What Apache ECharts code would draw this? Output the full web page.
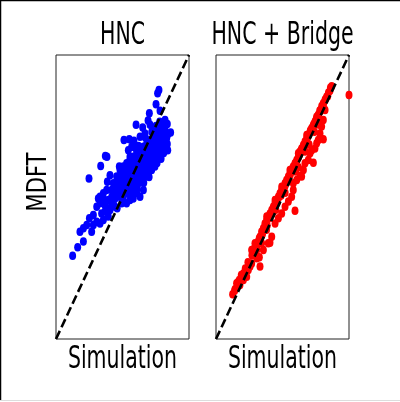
<!DOCTYPE html>
<html><head><meta charset="utf-8">
<script src="https://cdn.jsdelivr.net/npm/echarts@6/dist/echarts.min.js"></script>
<style>html,body{margin:0;padding:0;background:#fff;}#c{width:400px;height:402px;}</style>
</head><body><div id="c"></div>
<script>
const panelTitles = ['HNC', 'HNC + Bridge'];
const xLabel = 'Simulation';
const yLabel = 'MDFT';
const axisRange = [0, 100];
const diagonal = [[0, 0], [100, 100]];

const hncPoints = [
 [77.4,87.7],[76.4,86.5],[75.2,82.7],[70.2,79.5],[78.2,80.4],[60.2,75.4],[65.2,74.5],[69.2,76.9],
 [82.0,77.1],[83.7,75.7],[86.2,72.7],[83.7,68.7],[70.7,75.4],[73.2,73.6],[51.1,70.1],[55.1,70.3],
 [58.6,69.8],[56.9,67.7],[54.4,66.5],[55.6,64.2],[60.7,66.5],[63.2,71.2],[66.9,72.4],[37.1,64.4],
 [38.3,64.2],[33.6,60.9],[24.8,56.5],[47.6,60.7],[40.6,57.7],[38.6,55.4],[12.5,29.3],[16.3,32.3],
 [20.6,34.3],[18.0,37.8],[20.6,39.0],[23.1,40.1],[26.8,37.8],[25.1,42.5],[28.1,43.7],[30.6,46.6],
 [31.8,49.5],[33.1,50.1],[34.3,44.2],[33.1,40.7],[35.6,41.9],[36.8,47.2],[39.3,48.9],[41.9,52.5],
 [45.6,53.6],[44.4,49.5],[40.6,45.4],[48.1,51.3],[50.6,50.1],[53.1,47.8],[55.6,48.9],[49.4,47.8],
 [44.4,46.6],[39.3,43.1],[30.6,41.3],[28.1,40.1],
 [46.9,55.4],[49.4,57.2],[51.9,58.3],[54.4,59.5],[56.9,60.7],[59.4,61.9],[61.9,63.0],[64.4,64.2],
 [66.9,65.4],[69.4,66.5],[71.9,67.7],[74.4,68.9],[76.9,70.1],[79.4,71.2],[80.7,72.4],[82.0,73.6],
 [51.9,54.8],[55.6,56.0],[58.1,57.2],[60.7,58.3],[63.2,59.5],[65.7,60.7],[68.2,61.9],[70.7,63.0],
 [73.2,64.2],[75.7,65.4],[78.2,66.5],[80.7,67.7],[82.0,68.9],[83.2,70.7],[80.7,73.6],[78.2,74.8],
 [48.1,59.5],[50.6,60.7],[53.1,61.9],[55.6,63.0],[58.1,64.2],[60.7,65.4],[63.2,66.5],[65.7,67.7],
 [68.2,68.9],[70.7,70.1],[73.2,71.2],[75.7,72.4],[76.9,73.6],[75.2,75.0],
 [55.6,52.5],[59.4,53.6],[61.9,54.8],[64.4,56.0],[66.9,57.2],[69.4,58.3],[71.9,59.5],[74.4,60.7],
 [75.7,63.0],[78.2,64.2],[60.7,51.3],[65.7,52.5],[63.2,50.1],[58.1,49.5],[53.1,51.3],[45.6,57.2],
 [43.1,54.8],[41.9,50.1],[38.1,52.5],[35.6,51.3],[33.1,47.8],[45.6,50.1],[43.1,48.4],
 [54.4,57.2],[56.9,58.3],[59.4,59.5],[61.9,60.7],[64.4,61.9],[66.9,63.0],[69.4,64.2],[71.9,65.4],
 [74.4,66.5],[76.9,67.7],[79.4,68.9],[80.7,69.8],[50.6,53.6],[53.1,54.8],[56.9,54.8],[60.7,56.0],
 [63.2,57.2],[68.2,59.5],[70.7,60.7],[73.2,61.9],[65.7,58.3],[58.1,51.3],[48.1,54.8],[49.4,49.5],
 [50,56],[52,57],[57,59],[60,61],[62,62],[64,63],[66,64.5],[68,66],[70,67],[72,68.5],[74,70],
 [76,71],[78,72.5],[80,71],[82,71],[84,72],[79,70],[77,69],[73,66],[71,64],[69,62.5],[67,61],
 [65,59],[62,57.5],[60,55],[57,53],[54,53],[52,52],[47,52],[44,52.5],[42,47],[39,46],[37,45],
 [36,49],[46,46],[50,49],[56,51],[61,53],[66,55],[70,57],[72,60],[76,62],[79,63.5],[81,65.5],
 [84,66.5],[57,62],[62,68],[59,67.5],[67,71],[72,73],[78,76.5],[80,75.5]
];

const bridgePoints = [
 [12.5,15.8],[15.5,19.6],[17.5,20.8],[19.3,21.4],[20.6,23.1],[23.1,21.9],[24.3,24.3],[26.8,26.6],
 [28.1,30.2],[30.6,31.3],[31.8,34.3],[33.1,36.0],[34.3,37.8],[35.6,39.0],[36.8,40.7],[38.1,41.9],
 [39.3,43.1],[40.6,44.2],[41.9,45.4],[43.1,46.6],[44.4,47.8],[45.6,48.9],[46.9,50.1],[48.1,51.3],
 [49.4,52.5],[50.6,53.6],[51.9,54.8],[53.1,56.0],[54.4,57.2],[55.6,58.3],[56.9,59.5],[58.1,60.7],
 [59.4,61.9],[60.7,63.0],[61.9,64.2],[63.2,66.0],[64.4,67.1],[65.7,68.3],[66.9,69.5],[68.2,70.7],
 [69.4,71.8],[70.7,73.0],[71.9,74.2],[73.2,75.4],[74.4,76.5],[75.7,77.7],[76.9,78.9],[78.2,80.0],
 [79.4,81.2],[80.7,83.0],[82.0,84.2],[83.2,85.3],[84.5,86.7],[85.7,87.4],
 [20.6,20.8],[18.0,19.0],[30.6,28.4],[33.1,25.5],[32.6,28.8],[35.6,31.3],[39.3,33.7],[40.6,33.9],
 [41.9,36.0],[44.4,40.7],[46.9,42.5],[49.4,44.2],[51.9,46.6],[54.4,48.4],[56.9,50.1],[59.4,45.2],
 [58.1,52.5],[58.1,54.8],[60.7,56.0],[63.2,57.4],[64.4,57.2],[65.7,59.5],[66.9,61.9],[69.4,63.0],
 [73.2,62.1],[70.7,65.4],[71.9,66.5],[74.4,67.1],[75.7,68.9],[76.9,70.1],[80.7,70.3],[78.2,72.4],
 [79.4,74.8],[80.7,77.1],[82.0,80.6],
 [26.8,31.3],[29.3,33.7],[38.1,43.1],[44.4,48.9],[49.4,53.6],[55.6,59.5],[61.9,65.4],[68.2,71.8],
 [75.7,78.3],[14.3,17.5],[16.8,20.2],[21.8,23.7],[25.6,25.5],[29.3,30.2],[34.3,33.7],
 [14,17],[16,18.5],[19,22.5],[22,24.8],[24,27],[27,29.5],[29,32],[31,33],[32.5,35.5],[34,36],
 [35,37],[37,39.5],[38.5,40],[40,42.5],[42,44],[43,45],[45,47],[46,48],[47.5,50],[49,50.5],
 [50,52],[52,54],[53,55],[55,57],[56,58],[57.5,60],[59,61],[60,62],[62,64],[63,65],[64,66.5],
 [66,68],[67,69],[69,71],[70,72],[71,73.5],[72.5,74.5],[74,76],[75,77],[77,79],[78,80.5],
 [79.5,82],[81,83],[82.5,84.5],[84,85.5],[86,88.5],[87,89],
 [45,45.5],[52,51.5],[60,59],[67,66],[74,73],[38,38.5],[30,30],[62,60.5],[70,68.5],[77,75.5],
 [100,85.9]
];

const chart = echarts.init(document.getElementById('c'), null, {renderer: 'canvas'});
const FONT = 'DejaVu Sans';

function axis(idx) {
  return {
    type: 'value', gridIndex: idx, min: axisRange[0], max: axisRange[1],
    axisLine: {show: false}, axisTick: {show: false}, axisLabel: {show: false}, splitLine: {show: false}
  };
}

function txt(text, x, y, size, sy, rot) {
  return {
    type: 'text', x: x, y: y, scaleY: sy, rotation: rot || 0, z: 100,
    style: {text: text, fontSize: size, fontFamily: FONT, fill: '#000', align: 'center', verticalAlign: 'middle'}
  };
}

chart.setOption({
  animation: false,
  backgroundColor: '#fff',
  grid: [
    {left: 56, top: 55, width: 133, height: 284, show: true, borderColor: '#222', borderWidth: 1, backgroundColor: 'transparent'},
    {left: 216, top: 55, width: 133, height: 284, show: true, borderColor: '#222', borderWidth: 1, backgroundColor: 'transparent'}
  ],
  xAxis: [axis(0), axis(1)],
  yAxis: [axis(0), axis(1)],
  series: [
    {type: 'scatter', xAxisIndex: 0, yAxisIndex: 0, data: hncPoints, symbol: 'circle', symbolSize: [7, 8.5],
     itemStyle: {color: '#0000ff', opacity: 1}, z: 2},
    {type: 'scatter', xAxisIndex: 1, yAxisIndex: 1, data: bridgePoints, symbol: 'circle', symbolSize: [7, 8.5],
     itemStyle: {color: '#ff0000', opacity: 1}, z: 2},
    {type: 'line', xAxisIndex: 0, yAxisIndex: 0, data: diagonal, symbol: 'none', silent: true,
     lineStyle: {color: '#000', width: 2.6, type: [9, 4]}, z: 5},
    {type: 'line', xAxisIndex: 1, yAxisIndex: 1, data: diagonal, symbol: 'none', silent: true,
     lineStyle: {color: '#000', width: 2.6, type: [9, 4]}, z: 5}
  ],
  graphic: [
    txt(panelTitles[0], 122.5, 35, 20.5, 1.6),
    txt(panelTitles[1], 282.5, 35, 20.5, 1.6),
    txt(xLabel, 122.5, 359, 20.5, 1.6),
    txt(xLabel, 282.5, 359, 20.5, 1.6),
    txt(yLabel, 39, 182, 21, 1.3, Math.PI / 2),
    {type: 'line', shape: {x1: 0, y1: 0.5, x2: 400, y2: 0.5}, style: {stroke: '#000', lineWidth: 1.5}},
    {type: 'line', shape: {x1: 0.5, y1: 0, x2: 0.5, y2: 401}, style: {stroke: '#000', lineWidth: 1.5}},
    {type: 'line', shape: {x1: 0, y1: 400.5, x2: 400, y2: 400.5}, style: {stroke: '#ddd', lineWidth: 1}}
  ]
});
</script></body></html>
